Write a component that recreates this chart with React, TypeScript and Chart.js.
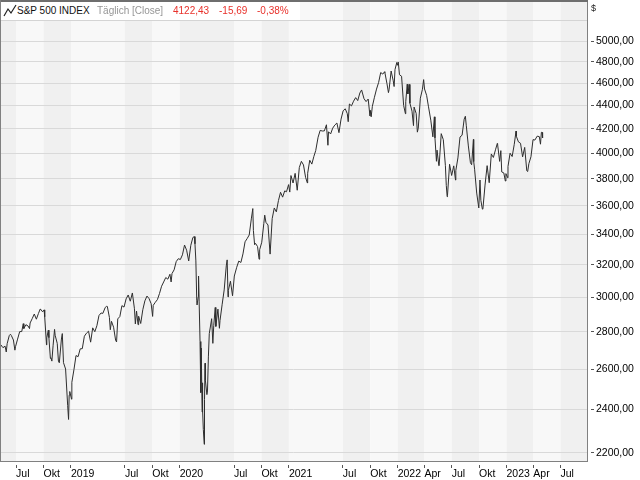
import React, { useEffect, useRef } from "react";
import { Chart, registerables } from "chart.js";

Chart.register(...registerables);

// ---- data (S&P 500 closes) ----
const y2018: [string, number][] = [
  ["05-10", 2723.07], ["05-11", 2727.72], ["05-18", 2712.97], ["05-25", 2721.33], ["05-29", 2689.86],
  ["06-01", 2734.62], ["06-08", 2779.03], ["06-12", 2786.85], ["06-15", 2779.66], ["06-22", 2754.88],
  ["06-27", 2699.63], ["06-29", 2718.37], ["07-06", 2759.82], ["07-13", 2801.31], ["07-20", 2801.83],
  ["07-25", 2846.07], ["07-27", 2818.82], ["08-03", 2840.35], ["08-10", 2833.28], ["08-15", 2818.37],
  ["08-17", 2850.13], ["08-24", 2874.69], ["08-31", 2901.52], ["09-07", 2871.68], ["09-14", 2904.98],
  ["09-20", 2930.75], ["09-21", 2929.67], ["09-28", 2913.98], ["10-03", 2925.51], ["10-05", 2885.57],
  ["10-11", 2728.37], ["10-12", 2767.13], ["10-17", 2809.21], ["10-19", 2767.78], ["10-24", 2656.1],
  ["10-26", 2658.69], ["10-29", 2641.25], ["11-02", 2723.06], ["11-07", 2813.89], ["11-09", 2781.01],
  ["11-16", 2736.27], ["11-20", 2641.89], ["11-23", 2632.56], ["11-30", 2760.17], ["12-03", 2790.37],
  ["12-07", 2633.08], ["12-14", 2599.95], ["12-21", 2416.62], ["12-24", 2351.1], ["12-26", 2467.7],
  ["12-28", 2485.74],
];
const y2019: [string, number][] = [
  ["01-03", 2447.89], ["01-04", 2531.94], ["01-11", 2596.26], ["01-18", 2670.71], ["01-25", 2664.76],
  ["02-01", 2706.53], ["02-08", 2707.88], ["02-15", 2775.6], ["02-22", 2792.67], ["03-01", 2803.69],
  ["03-08", 2743.07], ["03-15", 2822.48], ["03-22", 2800.71], ["03-29", 2834.4], ["04-05", 2892.74],
  ["04-12", 2907.41], ["04-18", 2905.03], ["04-26", 2939.88], ["04-30", 2945.83], ["05-03", 2945.64],
  ["05-10", 2881.4], ["05-13", 2811.87], ["05-17", 2859.53], ["05-24", 2826.06], ["05-31", 2752.06],
  ["06-03", 2744.45], ["06-07", 2873.34], ["06-14", 2886.98], ["06-21", 2950.46], ["06-28", 2941.76],
  ["07-05", 2990.41], ["07-12", 3013.77], ["07-19", 2976.61], ["07-26", 3025.86], ["08-02", 2932.05],
  ["08-05", 2844.74], ["08-09", 2918.65], ["08-14", 2840.6], ["08-16", 2888.68], ["08-23", 2847.11],
  ["08-30", 2926.46], ["09-06", 2978.71], ["09-13", 3007.39], ["09-20", 2992.07], ["09-27", 2961.79],
  ["10-02", 2887.61], ["10-04", 2952.01], ["10-11", 2970.27], ["10-18", 2986.2], ["10-25", 3022.55],
  ["11-01", 3066.91], ["11-08", 3093.08], ["11-15", 3120.46], ["11-22", 3110.29], ["11-29", 3140.98],
  ["12-03", 3093.2], ["12-06", 3145.91], ["12-13", 3168.8], ["12-20", 3221.22], ["12-27", 3240.02],
];
const y2020: [string, number][] = [
  ["01-03", 3234.85], ["01-10", 3265.35], ["01-17", 3329.62], ["01-24", 3295.47], ["01-31", 3225.52],
  ["02-07", 3327.71], ["02-14", 3380.16], ["02-19", 3386.15], ["02-21", 3337.75], ["02-24", 3225.89],
  ["02-27", 2978.76], ["02-28", 2954.22], ["03-03", 3003.37], ["03-04", 3130.12], ["03-06", 2972.37],
  ["03-09", 2746.56], ["03-11", 2741.38], ["03-12", 2480.64], ["03-13", 2711.02], ["03-16", 2386.13],
  ["03-17", 2529.19], ["03-18", 2398.1], ["03-20", 2304.92], ["03-23", 2237.4], ["03-24", 2447.33],
  ["03-26", 2630.07], ["03-27", 2541.47], ["04-01", 2470.5], ["04-03", 2488.65], ["04-06", 2663.68],
  ["04-09", 2789.82], ["04-17", 2874.56], ["04-21", 2736.56], ["04-24", 2836.74], ["04-29", 2939.51],
  ["05-01", 2830.71], ["05-08", 2929.8], ["05-13", 2820.0], ["05-15", 2863.7], ["05-22", 2955.45],
  ["05-29", 3044.31], ["06-05", 3193.93], ["06-08", 3232.39], ["06-11", 3002.1], ["06-12", 3041.31],
  ["06-19", 3097.74], ["06-26", 3009.05], ["07-02", 3130.01], ["07-10", 3185.04], ["07-17", 3224.73],
  ["07-24", 3215.63], ["07-31", 3271.12], ["08-07", 3351.28], ["08-14", 3372.85], ["08-21", 3397.16],
  ["08-28", 3508.01], ["09-02", 3580.84], ["09-04", 3426.96], ["09-08", 3331.84], ["09-11", 3340.97],
  ["09-18", 3319.47], ["09-23", 3236.92], ["09-25", 3298.46], ["10-02", 3348.44], ["10-09", 3477.13],
  ["10-12", 3534.22], ["10-16", 3483.81], ["10-23", 3465.39], ["10-30", 3269.96], ["11-06", 3509.44],
  ["11-13", 3585.15], ["11-20", 3557.54], ["11-27", 3638.35], ["12-04", 3699.12], ["12-11", 3663.46],
  ["12-18", 3709.41], ["12-24", 3703.06], ["12-31", 3756.07],
];
const y2021: [string, number][] = [
  ["01-04", 3700.65], ["01-08", 3824.68], ["01-15", 3768.25], ["01-22", 3841.47], ["01-29", 3714.24],
  ["02-05", 3886.83], ["02-12", 3934.83], ["02-19", 3906.71], ["02-26", 3811.15], ["03-04", 3768.47],
  ["03-05", 3841.94], ["03-12", 3943.34], ["03-19", 3913.1], ["03-26", 3974.54], ["04-01", 4019.87],
  ["04-09", 4128.8], ["04-16", 4185.47], ["04-23", 4180.17], ["04-30", 4181.17], ["05-07", 4232.6],
  ["05-12", 4063.04], ["05-14", 4173.85], ["05-21", 4155.86], ["05-28", 4204.11], ["06-04", 4229.89],
  ["06-11", 4247.44], ["06-18", 4166.45], ["06-25", 4280.7], ["07-02", 4352.34], ["07-09", 4369.55],
  ["07-16", 4327.16], ["07-19", 4258.49], ["07-23", 4411.79], ["07-30", 4395.26], ["08-06", 4436.52],
  ["08-13", 4468.0], ["08-20", 4441.67], ["08-27", 4509.37], ["09-02", 4536.95], ["09-10", 4458.58],
  ["09-17", 4432.99], ["09-24", 4455.48], ["09-30", 4307.54], ["10-01", 4357.04], ["10-04", 4300.46],
  ["10-08", 4391.34], ["10-15", 4471.37], ["10-22", 4544.9], ["10-29", 4605.38], ["11-05", 4697.53],
  ["11-12", 4682.85], ["11-18", 4704.54], ["11-19", 4697.96], ["11-26", 4594.62], ["12-01", 4513.04],
  ["12-03", 4538.43], ["12-10", 4712.02], ["12-17", 4620.64], ["12-20", 4568.02], ["12-23", 4725.79],
  ["12-29", 4793.06], ["12-31", 4766.18],
];
const y2022: [string, number][] = [
  ["01-03", 4796.56], ["01-07", 4677.03], ["01-14", 4662.85], ["01-21", 4397.94], ["01-27", 4326.51],
  ["01-28", 4431.85], ["02-02", 4589.38], ["02-04", 4500.53], ["02-09", 4587.18], ["02-11", 4418.64],
  ["02-18", 4348.87], ["02-23", 4225.5], ["02-25", 4384.65], ["03-04", 4328.87], ["03-08", 4170.7],
  ["03-11", 4204.31], ["03-18", 4463.12], ["03-25", 4543.06], ["03-29", 4631.6], ["04-01", 4545.86],
  ["04-08", 4488.28], ["04-14", 4392.59], ["04-22", 4271.78], ["04-29", 4131.93], ["05-04", 4300.17],
  ["05-06", 4123.34], ["05-11", 3935.18], ["05-13", 4023.89], ["05-19", 3900.79], ["05-20", 3901.36],
  ["05-27", 4158.24], ["06-03", 4108.54], ["06-10", 3900.86], ["06-13", 3749.63], ["06-16", 3666.77],
  ["06-17", 3674.84], ["06-24", 3911.74], ["07-01", 3825.33], ["07-08", 3899.38], ["07-14", 3790.38],
  ["07-15", 3863.16], ["07-22", 3961.63], ["07-29", 4130.29], ["08-05", 4145.19], ["08-12", 4280.15],
  ["08-16", 4305.2], ["08-19", 4228.48], ["08-26", 4057.66], ["09-02", 3924.26], ["09-06", 3908.19],
  ["09-12", 4110.41], ["09-13", 3932.69], ["09-16", 3873.33], ["09-23", 3693.23], ["09-30", 3585.62],
  ["10-04", 3790.93], ["10-07", 3639.66], ["10-12", 3577.03], ["10-14", 3583.07], ["10-21", 3752.75],
  ["10-28", 3901.06], ["11-04", 3770.55], ["11-11", 3992.93], ["11-18", 3965.34], ["11-25", 4026.12],
  ["12-01", 4076.57], ["12-02", 4071.7], ["12-09", 3934.38], ["12-13", 4019.65], ["12-16", 3852.36],
  ["12-23", 3844.82], ["12-28", 3783.22], ["12-30", 3839.5],
];
const y2023: [string, number][] = [
  ["01-05", 3808.1], ["01-06", 3895.08], ["01-13", 3999.09], ["01-20", 3972.61], ["01-27", 4070.56],
  ["02-02", 4179.76], ["02-03", 4136.48], ["02-10", 4090.46], ["02-17", 4079.09], ["02-24", 3970.04],
  ["03-03", 4045.64], ["03-10", 3861.59], ["03-13", 3855.76], ["03-17", 3916.64], ["03-24", 3970.99],
  ["03-31", 4109.31], ["04-06", 4105.02], ["04-14", 4137.64], ["04-21", 4133.52], ["04-25", 4071.63],
  ["04-28", 4169.48], ["05-01", 4167.87], ["05-02", 4122.43],
];
const seriesByYear: [number, [string, number][]][] = [
  [2018, y2018], [2019, y2019], [2020, y2020], [2021, y2021], [2022, y2022], [2023, y2023],
];

const xTickDates = [
  "2018-07-01", "2018-10-01", "2019-01-01", "2019-07-01", "2019-10-01", "2020-01-01",
  "2020-07-01", "2020-10-01", "2021-01-01", "2021-07-01", "2021-10-01", "2022-01-01",
  "2022-04-01", "2022-07-01", "2022-10-01", "2023-01-01", "2023-04-01", "2023-07-01",
];
const xTickLabels = [
  "Jul", "Okt", "2019", "Jul", "Okt", "2020", "Jul", "Okt", "2021", "Jul", "Okt", "2022",
  "Apr", "Jul", "Okt", "2023", "Apr", "Jul",
];
const yTickValues = [2200, 2400, 2600, 2800, 3000, 3200, 3400, 3600, 3800, 4000, 4200, 4400, 4600, 4800, 5000];

const X_START = "2018-05-08";
const X_END = "2023-09-28";
const Y_MIN = 2164;
const Y_MAX = 5429;

// ---- helpers ----
const DAY_MS = 86400000;
const toDay = (iso: string) => Date.parse(iso + "T00:00:00Z") / DAY_MS;
const fmtDe = (v: number) => v.toFixed(2).replace(".", ",");

const bandsPlugin = {
  id: "bands",
  beforeDraw(chart: any) {
    const { ctx, chartArea, scales } = chart;
    ctx.save();
    ctx.fillStyle = "#ffffff";
    ctx.fillRect(0, 0, chart.width, chart.height);
    const xs = scales.x;
    const edges = [chartArea.left, ...xTickDates.map((d) => xs.getPixelForValue(toDay(d))), chartArea.right];
    for (let i = 0; i < edges.length - 1; i++) {
      const a = Math.max(chartArea.left, edges[i]);
      const b = Math.min(chartArea.right, edges[i + 1]);
      ctx.fillStyle = i % 2 === 0 ? "#f0f0f0" : "#f8f8f8";
      ctx.fillRect(a, chartArea.top, b - a, chartArea.bottom - chartArea.top);
    }
    // header separator line
    ctx.fillStyle = "#d4d4d4";
    ctx.fillRect(chartArea.left, chartArea.top + 20, chartArea.right - chartArea.left, 1);
    ctx.restore();
  },
  afterDraw(chart: any) {
    const { ctx, chartArea } = chart;
    ctx.save();
    ctx.fillStyle = "#6e6e6e";
    ctx.fillRect(chartArea.left, chartArea.top, chartArea.right - chartArea.left + 1, 2);
    ctx.fillStyle = "#808080";
    ctx.fillRect(chartArea.left, chartArea.top, 1, chartArea.bottom - chartArea.top);
    ctx.restore();
  },
};

export default function App() {
  const ref = useRef<HTMLCanvasElement | null>(null);

  useEffect(() => {
    if (!ref.current) return;
    const data: { x: number; y: number }[] = [];
    for (const [yr, rows] of seriesByYear) {
      for (const [md, v] of rows) data.push({ x: toDay(`${yr}-${md}`), y: v });
    }
    const xTickDays = xTickDates.map(toDay);
    const tickFont = { family: "'Liberation Sans', Arial, sans-serif", size: 10.5 };
    const zeroPad = (scale: any) => {
      scale.paddingTop = 0;
      scale.paddingBottom = 0;
      scale.paddingLeft = 0;
      scale.paddingRight = 0;
    };

    const chart = new Chart(ref.current, {
      type: "line",
      data: {
        datasets: [
          {
            data,
            borderColor: "#2e2e2e",
            borderWidth: 1,
            pointRadius: 0,
            tension: 0,
            fill: false,
          },
        ],
      },
      options: {
        animation: false,
        responsive: false,
        devicePixelRatio: 1,
        parsing: false,
        normalized: true,
        layout: { padding: 0 },
        plugins: { legend: { display: false }, tooltip: { enabled: false }, title: { display: false } },
        events: [],
        scales: {
          x: {
            type: "linear",
            position: "bottom",
            min: toDay(X_START),
            max: toDay(X_END),
            bounds: "data",
            offset: false,
            afterBuildTicks(scale: any) {
              scale.ticks = xTickDays.map((v) => ({ value: v }));
            },
            afterFit(scale: any) {
              scale.height = 19;
              zeroPad(scale);
            },
            grid: {
              drawOnChartArea: false,
              drawTicks: true,
              tickLength: 7,
              tickColor: "#555555",
              tickBorderDash: [0, 3, 4, 40],
            },
            border: { display: true, color: "#808080", width: 1 },
            ticks: {
              autoSkip: false,
              maxRotation: 0,
              minRotation: 0,
              align: "start",
              padding: 0,
              color: "#000000",
              font: tickFont,
              callback: (_v: any, i: number) => xTickLabels[i],
            },
          },
          y: {
            type: "logarithmic",
            position: "right",
            min: Y_MIN,
            max: Y_MAX,
            bounds: "data",
            afterBuildTicks(scale: any) {
              scale.ticks = yTickValues.map((v) => ({ value: v }));
            },
            afterFit(scale: any) {
              scale.width = 53;
              zeroPad(scale);
            },
            grid: {
              drawOnChartArea: true,
              color: "#d9d9d9",
              lineWidth: 1,
              drawTicks: true,
              tickLength: 7,
              tickColor: "#555555",
              tickBorderDash: [0, 3, 4, 40],
            },
            border: { display: true, color: "#808080", width: 1 },
            ticks: {
              autoSkip: false,
              padding: 2,
              color: "#000000",
              font: tickFont,
              callback: (v: any) => fmtDe(Number(v)),
            },
          },
        },
      },
      plugins: [bandsPlugin],
    } as any);
    return () => chart.destroy();
  }, []);

  const font = "'Liberation Sans', Arial, sans-serif";
  return (
    <div style={{ position: "fixed", left: 0, top: 0, width: 640, height: 480, background: "#fff" }}>
      <canvas ref={ref} width={640} height={480} style={{ display: "block", width: 640, height: 480 }} />
      <div
        style={{
          position: "absolute",
          left: 1,
          top: 2,
          width: 299,
          height: 18,
          background: "#ffffff",
          fontFamily: font,
          fontSize: 10,
          lineHeight: "17px",
          whiteSpace: "nowrap",
        }}
      >
        <svg width="14" height="14" style={{ position: "absolute", left: 2, top: 2 }}>
          <polyline points="1,12 5,5 8,9 13,1" fill="none" stroke="#222" strokeWidth="1.2" />
        </svg>
        <span style={{ position: "absolute", left: 16, top: 0, color: "#111" }}>S&amp;P 500 INDEX</span>
        <span style={{ position: "absolute", left: 96, top: 0, color: "#959595" }}>Täglich [Close]</span>
        <span style={{ position: "absolute", left: 172, top: 0, color: "#e8312b" }}>4122,43</span>
        <span style={{ position: "absolute", left: 218, top: 0, color: "#e8312b" }}>-15,69</span>
        <span style={{ position: "absolute", left: 256, top: 0, color: "#e8312b" }}>-0,38%</span>
      </div>
      <div
        style={{
          position: "absolute",
          left: 591,
          top: 3,
          fontFamily: font,
          fontSize: 9,
          color: "#222",
        }}
      >
        $
      </div>
    </div>
  );
}
